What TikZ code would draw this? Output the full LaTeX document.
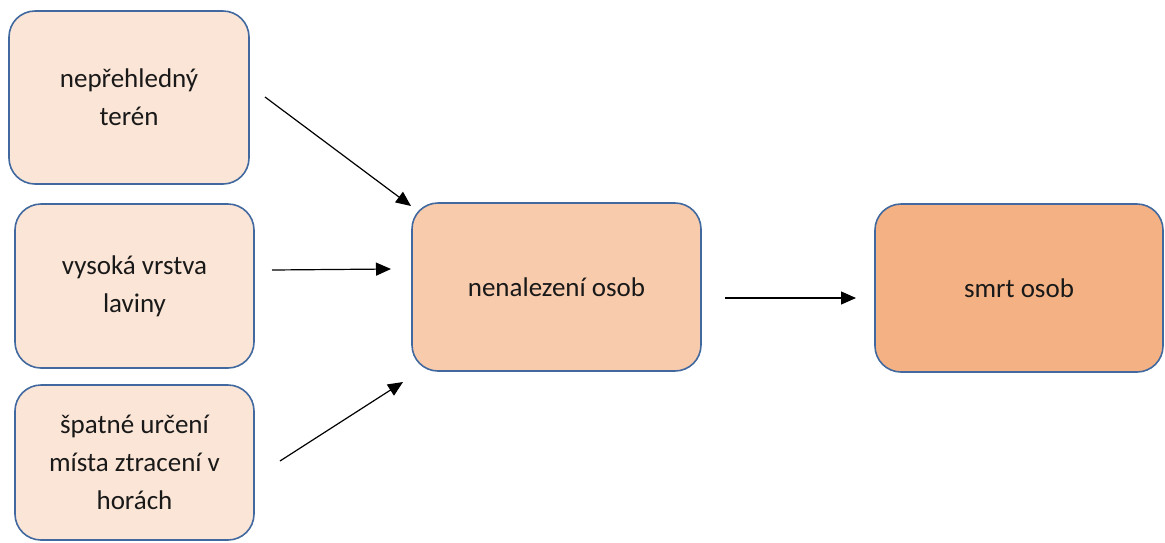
\documentclass[tikz,border=0pt]{standalone}
\usepackage{fontspec}
\setmainfont{Carlito}
\usetikzlibrary{arrows.meta}
\definecolor{fillA}{HTML}{FBE5D6}
\definecolor{fillB}{HTML}{F8CBAD}
\definecolor{fillC}{HTML}{F4B183}
\definecolor{edgeblue}{HTML}{41699F}
\tikzset{
  box/.style={draw=edgeblue, line width=1.6pt, rounded corners=26pt, align=center,
    font=\fontsize{27}{38}\selectfont, text=black!90, inner sep=0pt},
  conn/.style={line width=1.2pt, -{Triangle[length=15pt,width=13pt]}},
}
\begin{document}
\begin{tikzpicture}[x=1pt,y=-1pt]
\useasboundingbox (0,0) rectangle (1165,542);
\node[box, fill=fillA, minimum width=240pt, minimum height=173pt] (b1) at (129,97.5) {nepřehledný\\terén};
\node[box, fill=fillA, minimum width=239pt, minimum height=164pt] (b2) at (134.5,286) {vysoká vrstva\\laviny};
\node[box, fill=fillA, minimum width=239pt, minimum height=155pt] (b3) at (134.5,462.5) {špatné určení\\místa ztracení v\\horách};
\node[box, fill=fillB, minimum width=289pt, minimum height=168pt] (c) at (556.5,287) {nenalezení osob};
\node[box, fill=fillC, minimum width=288pt, minimum height=168pt] (d) at (1019,288) {smrt osob};
\coordinate (s1) at (265,97);
\coordinate (e1) at (411,206);
\coordinate (s2) at (272,270);
\coordinate (e2) at (391,269);
\coordinate (s3) at (280,461);
\coordinate (e3) at (403,382);
\coordinate (s4) at (725,298);
\coordinate (e4) at (856,298);
\draw[conn] (s1) -- (e1);
\draw[conn] (s2) -- (e2);
\draw[conn] (s3) -- (e3);
\draw[conn] (s4) -- (e4);
\end{tikzpicture}
\end{document}
